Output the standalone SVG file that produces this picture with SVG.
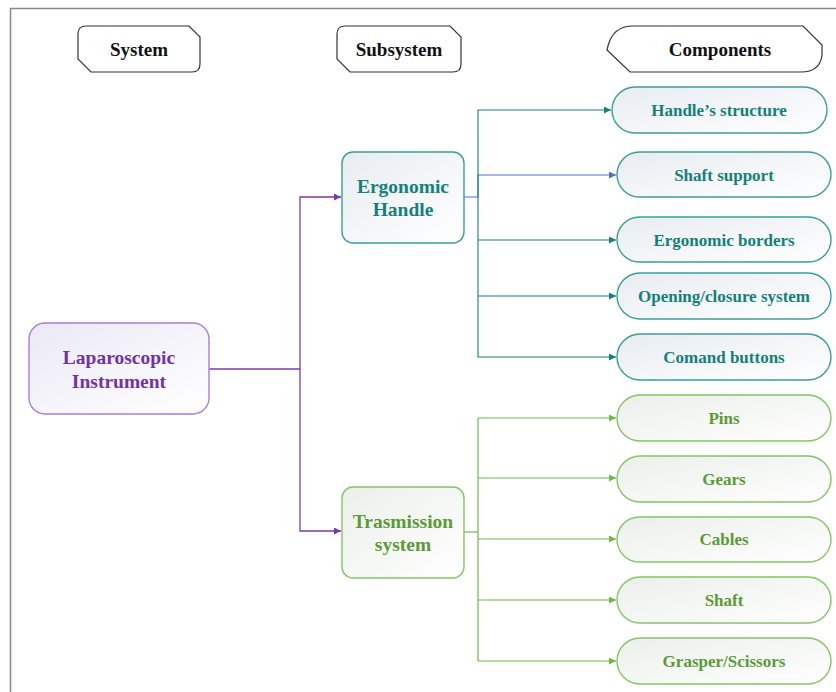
<svg xmlns="http://www.w3.org/2000/svg" width="836" height="692" viewBox="0 0 836 692" font-family="'Liberation Serif', 'DejaVu Serif', serif">
<defs>
<linearGradient id="gP" x1="0" y1="0" x2="1" y2="1"><stop offset="0" stop-color="#ebe9f5"/><stop offset="1" stop-color="#ffffff"/></linearGradient>
<linearGradient id="gT" x1="0" y1="0" x2="1" y2="1"><stop offset="0" stop-color="#e8ecf1"/><stop offset="1" stop-color="#ffffff"/></linearGradient>
<linearGradient id="gG" x1="0" y1="0" x2="1" y2="1"><stop offset="0" stop-color="#ebefea"/><stop offset="1" stop-color="#ffffff"/></linearGradient>
<marker id="aP" viewBox="0 0 10 10" refX="10" refY="5" markerWidth="9" markerHeight="7" markerUnits="userSpaceOnUse" orient="auto"><path d="M0,0 L10,5 L0,10 Z" fill="#7a3aaa"/></marker>
<marker id="aT" viewBox="0 0 10 10" refX="10" refY="5" markerWidth="9" markerHeight="7" markerUnits="userSpaceOnUse" orient="auto"><path d="M0,0 L10,5 L0,10 Z" fill="#178079"/></marker>
<marker id="aB" viewBox="0 0 10 10" refX="10" refY="5" markerWidth="9" markerHeight="7" markerUnits="userSpaceOnUse" orient="auto"><path d="M0,0 L10,5 L0,10 Z" fill="#4f72d0"/></marker>
<marker id="aG" viewBox="0 0 10 10" refX="10" refY="5" markerWidth="9" markerHeight="7" markerUnits="userSpaceOnUse" orient="auto"><path d="M0,0 L10,5 L0,10 Z" fill="#6fb74a"/></marker>
</defs>
<style>
text{font-family:"Liberation Serif","DejaVu Serif",serif;font-weight:bold;text-anchor:middle;dominant-baseline:central}
.hdr{fill:#fff;stroke:#333;stroke-width:1.2}
.ht{font-size:19px;fill:#111}
.np{fill:url(#gP);stroke:#a77fd6;stroke-width:1.4}
.nt{fill:url(#gT);stroke:#3b9e96;stroke-width:1.4}
.ng{fill:url(#gG);stroke:#86c466;stroke-width:1.4}
.tp{fill:#7332a6;font-size:19.5px}
.tt{fill:#15807a}
.tg{fill:#5b9a36}
.big{font-size:19.5px}
.sm{font-size:17px}
.cP{fill:none;stroke:#7a3aaa;stroke-width:1.3}
.cT{fill:none;stroke:#178079;stroke-width:1.1}
.cB{fill:none;stroke:#4f72d0;stroke-width:1.1}
.cG{fill:none;stroke:#6fb74a;stroke-width:1.2}
</style>
<rect width="836" height="692" fill="#fff"/>
<path d="M10.5,692 L10.5,8.5 L836,8.5" fill="none" stroke="#888" stroke-width="1.5"/>

<g id="hdr-system"><path class="hdr" d="M86,26 L189,26 L200,37 L200,64 Q200,72 192,72 L91,72 L78,59 L78,34 Q78,26 86,26 Z"/><text class="ht" x="139" y="49">System</text></g>
<g id="hdr-subsystem"><path class="hdr" d="M345,26 L450,26 L461,37 L461,64 Q461,72 453,72 L350,72 L337,59 L337,34 Q337,26 345,26 Z"/><text class="ht" x="399" y="49">Subsystem</text></g>
<g id="hdr-components"><path class="hdr" d="M633,26 L803,26 L822,45 L822,55 Q820,72 801,72 L630,72 L607,50 L608,46 Q613,26 633,26 Z"/><text class="ht" x="720" y="49">Components</text></g>

<g id="connectors">
<path class="cP" d="M209,369 L300,369"/>
<path class="cP" d="M300,369 L300,197 L341,197" marker-end="url(#aP)"/>
<path class="cP" d="M300,369 L300,531 L341,531" marker-end="url(#aP)"/>

<path class="cB" d="M464,197 L478,197 L478,175 L616,175" marker-end="url(#aB)"/>
<path class="cT" d="M478,197 L478,110 L611,110" marker-end="url(#aT)"/>
<path class="cT" d="M478,197 L478,357 L616,357" marker-end="url(#aT)"/>
<path class="cT" d="M478,240 L616,240" marker-end="url(#aT)"/>
<path class="cT" d="M478,296 L616,296" marker-end="url(#aT)"/>

<path class="cG" d="M464,532 L478,532"/>
<path class="cG" d="M478,418 L478,661"/>
<path class="cG" d="M478,418 L616,418" marker-end="url(#aG)"/>
<path class="cG" d="M478,478 L616,478" marker-end="url(#aG)"/>
<path class="cG" d="M478,539 L616,539" marker-end="url(#aG)"/>
<path class="cG" d="M478,600 L616,600" marker-end="url(#aG)"/>
<path class="cG" d="M478,661 L616,661" marker-end="url(#aG)"/>
</g>

<g id="n-laparoscopic"><rect class="np" x="29" y="323" width="180" height="91" rx="16"/><text class="tp" x="119" y="357">Laparoscopic</text><text class="tp" x="119" y="381">Instrument</text></g>
<g id="n-ergonomic"><rect class="nt" x="342" y="152" width="122" height="91" rx="11"/><text class="tt big" x="403" y="186">Ergonomic</text><text class="tt big" x="403" y="209">Handle</text></g>
<g id="n-trasmission"><rect class="ng" x="342" y="487" width="122" height="91" rx="11"/><text class="tg big" x="403" y="521">Trasmission</text><text class="tg big" x="403" y="544">system</text></g>

<g id="c-handle-structure"><rect class="nt" x="612" y="87" width="215" height="46" rx="23"/><text class="tt sm" x="719" y="110">Handle’s structure</text></g>
<g id="c-shaft-support"><rect class="nt" x="617" y="152" width="214" height="45" rx="22.5"/><text class="tt sm" x="724" y="175">Shaft support</text></g>
<g id="c-ergonomic-borders"><rect class="nt" x="617" y="217" width="214" height="45" rx="22.5"/><text class="tt sm" x="724" y="240">Ergonomic borders</text></g>
<g id="c-opening"><rect class="nt" x="617" y="273" width="214" height="46" rx="23"/><text class="tt sm" x="724" y="296">Opening/closure system</text></g>
<g id="c-comand"><rect class="nt" x="617" y="334" width="214" height="46" rx="23"/><text class="tt sm" x="724" y="357">Comand buttons</text></g>

<g id="c-pins"><rect class="ng" x="617" y="395" width="214" height="46" rx="23"/><text class="tg sm" x="724" y="418">Pins</text></g>
<g id="c-gears"><rect class="ng" x="617" y="456" width="214" height="46" rx="23"/><text class="tg sm" x="724" y="479">Gears</text></g>
<g id="c-cables"><rect class="ng" x="617" y="517" width="214" height="45" rx="22.5"/><text class="tg sm" x="724" y="539">Cables</text></g>
<g id="c-shaft"><rect class="ng" x="617" y="577" width="214" height="46" rx="23"/><text class="tg sm" x="724" y="600">Shaft</text></g>
<g id="c-grasper"><rect class="ng" x="617" y="638" width="214" height="46" rx="23"/><text class="tg sm" x="724" y="661">Grasper/Scissors</text></g>
</svg>
